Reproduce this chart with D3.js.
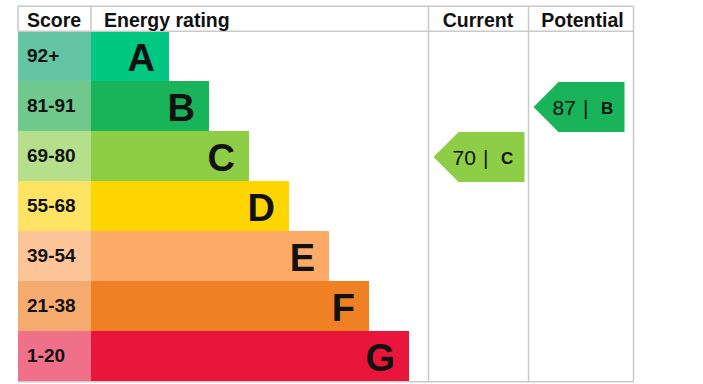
<!DOCTYPE html>
<html><head><meta charset="utf-8">
<script src="https://cdn.jsdelivr.net/npm/d3@7"></script>
<style>html,body{margin:0;padding:0;background:#fff;}svg{display:block;font-family:"Liberation Sans",Arial,sans-serif;}</style>
</head><body>
<svg id="chart" width="703" height="384"></svg>
<script>
const ratings = ["A","B","C","D","E","F","G"];
const scoreRanges = ["92+","81-91","69-80","55-68","39-54","21-38","1-20"];
const minScores = [92,81,69,55,39,21,1];
const columns = ["Score","Energy rating","Current","Potential"];
const currentScore = 70;
const potentialScore = 87;
const barColors = ["#00c781","#19b459","#8dce46","#ffd500","#fcaa65","#ef8023","#e9153b"];
const cellColors = ["#63c5a4","#6fc98c","#b5df8a","#ffe363","#fdc597","#f5ab6e","#f06f89"];

const svg = d3.select("#chart");
const L = 18, R = 633, T = 6, H = 31, B = 381;
const scoreX = 91, curX = 428, potX = 528;
const grid = "#c9c9c9";

const y = d3.scaleBand().domain(ratings).range([H, B]).padding(0);
const barEnd = d3.scaleLinear().domain([0, ratings.length - 1]).range([169, 409]);
const barColor = d3.scaleOrdinal().domain(ratings).range(barColors);
const cellColor = d3.scaleOrdinal().domain(ratings).range(cellColors);
const ratingOf = s => ratings[minScores.findIndex(m => s >= m)];

// score cells
svg.append("g").selectAll("rect").data(ratings).join("rect")
  .attr("x", L).attr("y", d => y(d)).attr("width", scoreX - L).attr("height", y.bandwidth())
  .attr("fill", d => cellColor(d));
svg.append("g").selectAll("text").data(ratings).join("text")
  .attr("x", 27).attr("y", d => y(d) + 31)
  .attr("font-size", 19).attr("font-weight", "bold").attr("fill", "#111")
  .text((d, i) => scoreRanges[i]);

// bars
svg.append("g").selectAll("rect").data(ratings).join("rect")
  .attr("x", scoreX).attr("y", d => y(d)).attr("width", (d, i) => barEnd(i) - scoreX).attr("height", y.bandwidth())
  .attr("fill", d => barColor(d));
svg.append("g").selectAll("text").data(ratings).join("text")
  .attr("x", (d, i) => barEnd(i) - 14).attr("y", d => y(d) + 40)
  .attr("text-anchor", "end").attr("font-size", 38).attr("font-weight", "bold").attr("fill", "#111")
  .text(d => d);

// grid lines
const g = svg.append("g").attr("stroke", grid).attr("stroke-width", 1.5).attr("fill", "none");
[T, H, B + 0.5].forEach(v => g.append("line").attr("x1", L).attr("x2", R + 0.75).attr("y1", v + 0.25).attr("y2", v + 0.25));
g.append("line").attr("x1", L).attr("x2", L).attr("y1", T).attr("y2", H);
[scoreX].forEach(v => g.append("line").attr("x1", v).attr("x2", v).attr("y1", T).attr("y2", H));
[curX, potX, R].forEach(v => g.append("line").attr("x1", v + 0.5).attr("x2", v + 0.5).attr("y1", T).attr("y2", B + 1));

// headers
const hx = [27, 104, (curX + potX) / 2, (potX + R) / 2 + 2];
svg.append("g").selectAll("text").data(columns).join("text")
  .attr("x", (d, i) => hx[i]).attr("y", 27)
  .attr("text-anchor", (d, i) => i < 2 ? "start" : "middle")
  .attr("font-size", 19.5).attr("font-weight", "bold").attr("fill", "#111")
  .text(d => d);

// arrows
function arrow(colLeft, score) {
  const r = ratingOf(score);
  const x0 = colLeft + 5.5, w = 91, notch = 25, y0 = y(r) + 1, h = y.bandwidth();
  const path = d3.path();
  path.moveTo(x0, y0 + h / 2);
  path.lineTo(x0 + notch, y0);
  path.lineTo(x0 + w, y0);
  path.lineTo(x0 + w, y0 + h);
  path.lineTo(x0 + notch, y0 + h);
  path.closePath();
  const ag = svg.append("g");
  ag.append("path").attr("d", path.toString()).attr("fill", barColor(r));
  const t = ag.append("text").attr("y", y0 + h / 2 + 7.5).attr("fill", "#111");
  t.append("tspan").attr("x", x0 + 19).attr("font-size", 21).text(score);
  t.append("tspan").attr("x", x0 + 49.5).attr("font-size", 21).text("|");
  t.append("tspan").attr("x", x0 + 67.5).attr("font-size", 17).attr("font-weight", "bold").attr("dy", -0.5).text(r);
}
arrow(curX, currentScore);
arrow(potX, potentialScore);
</script>
</body></html>
